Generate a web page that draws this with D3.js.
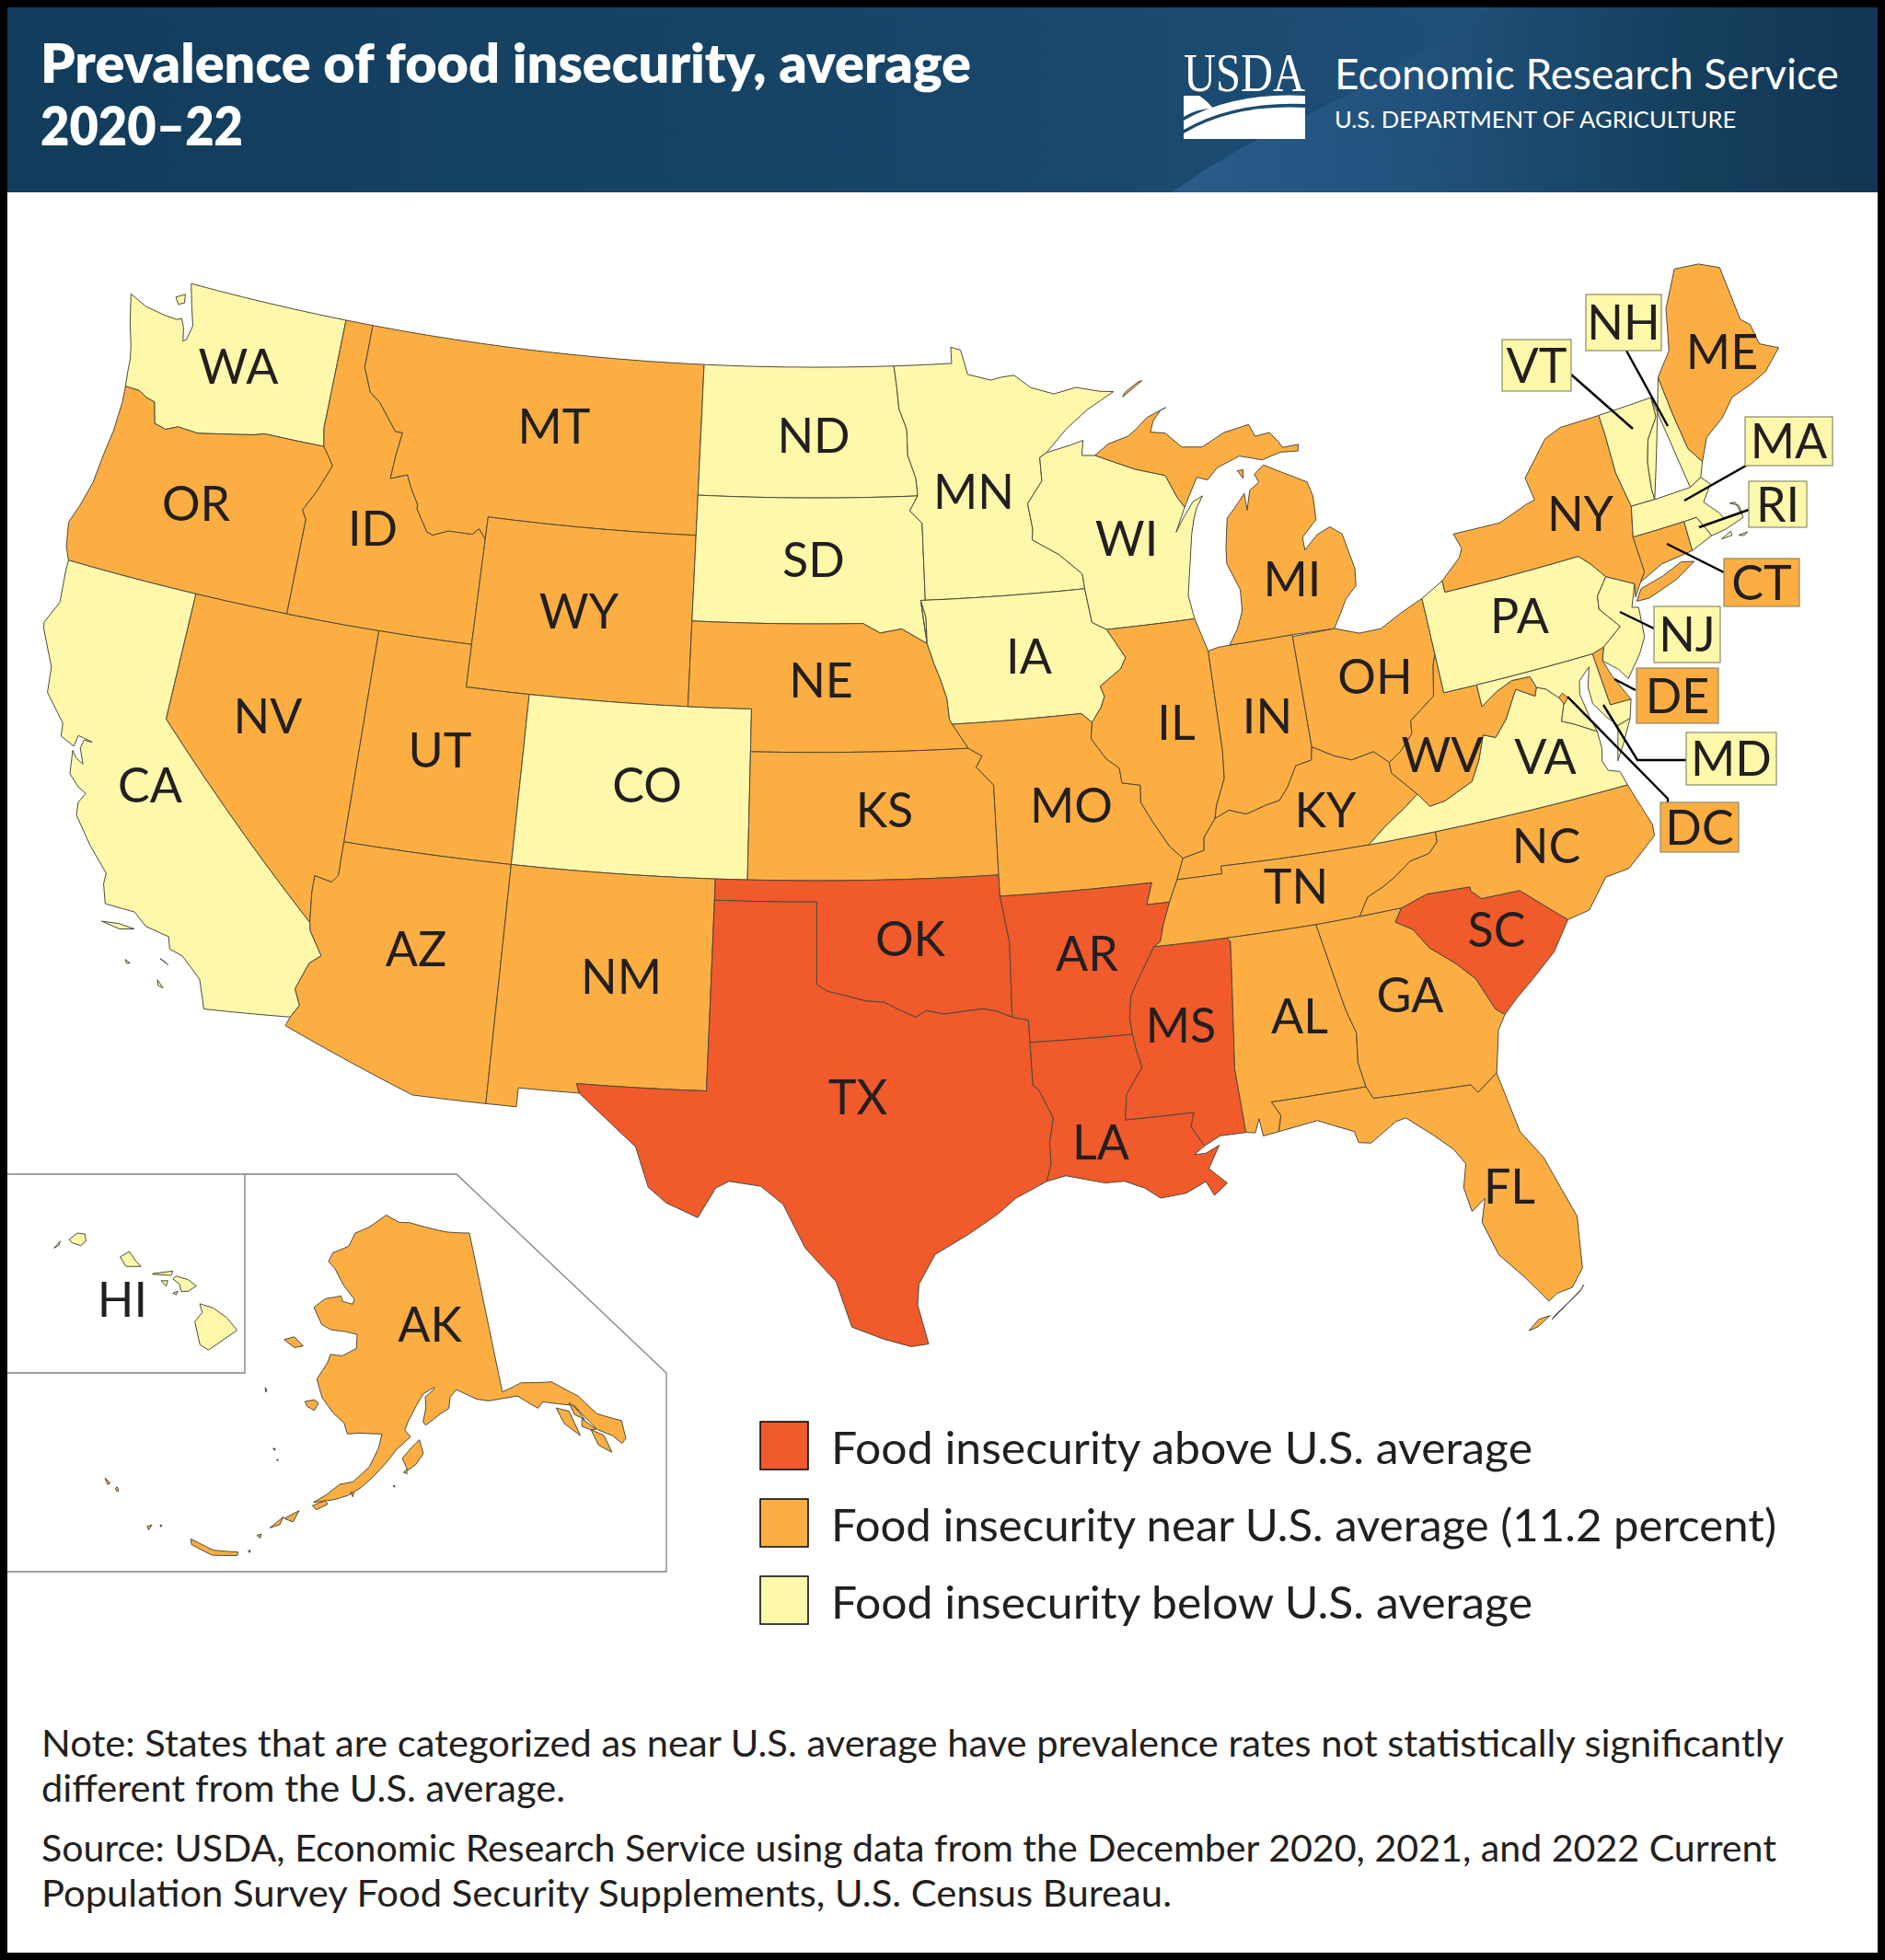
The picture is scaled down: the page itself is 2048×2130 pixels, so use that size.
<!DOCTYPE html>
<html>
<head>
<meta charset="utf-8">
<title>Prevalence of food insecurity</title>
<script src="https://cdn.jsdelivr.net/npm/d3@7"></script>
<style>
body { margin: 0; background: #fff; }
text { font-family: Lato, "Open Sans", sans-serif; }
</style>
</head>
<body>
<div id="chart"></div>
<script>
// Category membership
const aboveStates = ['TX', 'OK', 'AR', 'LA', 'MS', 'SC'];
const belowStates = ['WA', 'CA', 'ND', 'SD', 'MN', 'WI', 'IA', 'CO', 'PA', 'VA', 'VT', 'NH', 'MA', 'RI', 'NJ', 'MD', 'HI'];
const nearStates = ['OR', 'ID', 'MT', 'WY', 'NV', 'UT', 'AZ', 'NM', 'NE', 'KS', 'MO', 'IL', 'IN', 'OH', 'MI', 'KY', 'TN', 'AL', 'GA', 'FL', 'NC', 'WV', 'NY', 'ME', 'CT', 'DE', 'DC', 'AK'];
const legendLabels = ['Food insecurity above U.S. average', 'Food insecurity near U.S. average (11.2 percent)', 'Food insecurity below U.S. average'];
const titleLines = ['Prevalence of food insecurity, average', '2020\u201322'];
const footerLines = [
  'Note: States that are categorized as near U.S. average have prevalence rates not statistically significantly',
  'different from the U.S. average.',
  'Source: USDA, Economic Research Service using data from the December 2020, 2021, and 2022 Current',
  'Population Survey Food Security Supplements, U.S. Census Bureau.'
];

// Shared borders, lon/lat
const waOr = [[-124.0,46.27],[-123.5,46.26],[-123.2,46.15],[-122.9,46.1],[-122.8,45.85],[-122.7,45.62],[-122.3,45.55],[-121.9,45.68],[-121.2,45.65],[-120.6,45.74],[-119.9,45.84],[-119.3,45.93],[-119.0,46.0],[-116.92,46.0]];
const orId = [[-116.92,46.0],[-116.5,45.6],[-116.85,44.95],[-117.2,44.45],[-117.03,44.25],[-117.03,42]];
const idMt = [[-116.05,49],[-116.05,48.0],[-115.7,47.45],[-115.3,47.25],[-114.95,46.95],[-114.6,46.65],[-114.35,46.65],[-114.45,46.1],[-114.5,45.55],[-113.95,45.7],[-113.75,45.4],[-113.45,45.05],[-113.45,44.95],[-113.0,44.45],[-112.8,44.4],[-112.3,44.55],[-111.5,44.55],[-111.3,44.7],[-111.05,44.48]];
const coloradoAzCa = [[-114.63,35.0],[-114.57,34.8],[-114.15,34.27],[-114.45,34.05],[-114.72,33.4],[-114.52,33.03],[-114.72,32.72]];
const coloradoAzNv = [[-114.04,37],[-114.04,36.2],[-114.2,36.02],[-114.72,36.1],[-114.72,35.7],[-114.63,35.0]];
const redRiver = [[-100,34.56],[-99.7,34.4],[-99.2,34.3],[-98.6,34.16],[-98.1,34.13],[-97.7,33.95],[-97.2,33.75],[-96.9,33.9],[-96.4,33.8],[-95.8,33.85],[-95.3,33.88],[-94.9,33.8],[-94.49,33.64]];
const sabine = [[-94.04,33.02],[-94.04,32.0],[-93.9,31.9],[-93.55,31.2],[-93.7,30.6],[-93.7,30.1],[-93.85,29.7]];
const redRiverNd = [[-97.23,49],[-97.15,48.5],[-97.1,48.0],[-96.85,47.5],[-96.85,46.9],[-96.6,46.35],[-96.56,45.94]];
const mnSd = [[-96.56,45.94],[-96.85,45.6],[-96.45,45.3],[-96.45,43.5]];
const missouriSdNe = [[-98.5,43],[-97.95,42.77],[-97.25,42.85],[-96.7,42.6],[-96.45,42.49]];
const missouriIaNe = [[-96.6,43.5],[-96.45,43.1],[-96.45,42.49],[-96.25,42.0],[-96.1,41.7],[-95.9,41.2],[-95.85,40.7],[-95.77,40.58]];
const missouriNeMo = [[-95.77,40.58],[-95.31,40]];
const missouriKsMo = [[-95.31,40],[-94.9,39.8],[-95.1,39.55],[-94.6,39.11]];
const missMnWi = [[-92.3,46.65],[-92.3,46.1],[-92.85,45.6],[-92.75,45.0],[-92.8,44.75],[-91.95,44.35],[-91.25,43.85],[-91.22,43.5]];
const missIaWi = [[-91.22,43.5],[-91.1,42.7],[-90.65,42.5]];
const missIaIl = [[-90.65,42.5],[-90.15,41.8],[-90.35,41.55],[-91.05,41.2],[-90.95,40.95],[-91.1,40.7],[-91.42,40.38]];
const missMoIl = [[-91.42,40.38],[-91.5,40.0],[-91.1,39.5],[-90.73,39.25],[-90.7,38.9],[-90.15,38.8],[-90.2,38.4],[-89.9,37.9],[-89.5,37.3],[-89.15,36.98]];
const missMoKy = [[-89.15,36.98],[-89.4,36.5]];
const missMoTn = [[-89.4,36.5],[-89.7,36.0]];
const missArTn = [[-89.7,36.0],[-89.95,35.5],[-90.1,35.1],[-90.3,35.0]];
const missArMs = [[-90.3,35.0],[-90.6,34.6],[-90.9,34.2],[-91.1,33.9],[-91.2,33.4],[-91.17,33.0]];
const missLaMs = [[-91.17,33.0],[-91.1,32.6],[-91.0,32.2],[-91.5,31.6],[-91.6,31.0]];
const ohioOhWv = [[-80.52,40.64],[-80.65,40.4],[-80.85,39.7],[-81.7,39.25],[-81.75,38.95],[-82.2,38.6],[-82.6,38.4]];
const ohioOhKy = [[-82.6,38.4],[-83.0,38.72],[-83.7,38.63],[-84.2,38.8],[-84.82,39.1]];
const ohioInKy = [[-84.82,39.1],[-84.9,38.8],[-85.4,38.73],[-85.75,38.27],[-86.05,38.0],[-86.5,37.93],[-87.1,37.8],[-87.6,37.95],[-88.05,37.8]];
const ohioIlKy = [[-88.05,37.8],[-88.45,37.4],[-88.5,37.1],[-89.15,36.98]];
const wabash = [[-87.53,39.35],[-87.6,38.7],[-87.95,38.1],[-88.05,37.8]];
const kyVa = [[-83.68,36.6],[-83.1,36.95],[-82.4,37.3],[-81.97,37.54]];
const kyWv = [[-81.97,37.54],[-82.6,38.15],[-82.6,38.4]];
const vaWv = [[-81.97,37.54],[-81.68,37.2],[-81.2,37.25],[-80.3,37.55],[-79.95,38.0],[-79.65,38.55],[-79.3,38.42],[-78.87,38.77],[-78.35,39.4],[-77.83,39.13],[-77.72,39.32]];
const wvMd = [[-79.48,39.72],[-79.48,39.2],[-78.95,39.45],[-78.4,39.62],[-77.83,39.6],[-77.72,39.32]];
const potomacUpper = [[-77.72,39.32],[-77.45,39.22],[-77.12,38.93]];
const potomacLower = [[-77.04,38.79],[-77.25,38.4],[-76.95,38.28],[-76.3,37.95]];
const tnNc = [[-81.68,36.59],[-81.7,36.35],[-82.0,36.12],[-82.6,36.03],[-83.1,35.75],[-83.5,35.57],[-84.0,35.4],[-84.32,34.99]];
const gaSc = [[-83.1,35.0],[-83.35,34.7],[-82.9,34.45],[-82.55,33.95],[-81.9,33.45],[-81.45,33.0],[-81.1,32.2],[-80.88,32.03]];
const ncSc = [[-83.1,35.0],[-82.3,35.2],[-81.05,35.15],[-81.05,35.05],[-80.8,34.82],[-79.68,34.8],[-78.55,33.86]];
const alGa = [[-85.6,34.98],[-85.18,32.87],[-85.0,32.3],[-85.1,31.6],[-85.0,31.0]];
const gaFl = [[-85.0,31.0],[-84.86,30.7],[-82.2,30.57],[-82.05,30.36],[-81.45,30.72]];
const alFl = [[-87.6,31.0],[-87.4,30.65],[-87.52,30.28]];
const msAl = [[-88.2,34.99],[-88.1,34.9],[-88.47,31.9],[-88.4,30.37]];
const laMsPearl = [[-91.6,31.0],[-89.73,31.0],[-89.85,30.67],[-89.55,30.18]];
const vtNh = [[-71.5,45.01],[-71.55,44.55],[-72.05,44.1],[-72.3,43.6],[-72.45,43.0],[-72.46,42.73]];
const meNh = [[-71.05,45.4],[-71.0,44.5],[-70.9,43.6],[-70.6,43.2]];
const nyVt = [[-73.35,45.0],[-73.35,44.5],[-73.4,43.6],[-73.25,42.75]];
const nyPaDelaware = [[-75.35,42.0],[-75.05,41.75],[-74.7,41.36]];
const paNj = [[-74.7,41.36],[-75.13,40.98],[-75.2,40.68],[-74.72,40.15],[-75.4,39.8]];
const njNy = [[-74.7,41.36],[-73.9,41.0]];
const wiMi = [[-90.4,46.57],[-89.1,46.14],[-88.1,45.9],[-87.8,45.35],[-87.6,45.1]];
const orCoast = [[-124.0,46.27],[-123.95,45.9],[-123.97,45.2],[-124.07,44.6],[-124.15,43.9],[-124.35,43.3],[-124.55,42.85],[-124.4,42.3],[-124.21,42]];
const rev = a => a.slice().reverse();

// One ring list per state; islands are extra rings
const WA = [[...waOr, [-117.04,46.42], [-117.03,49], [-122.75,49], [-122.5,48.45], [-122.3,48.05], [-122.4,47.7], [-122.5,47.65], [-122.6,47.95], [-122.75,48.15], [-122.9,48.1], [-123.4,48.12], [-124.1,48.2], [-124.72,48.38], [-124.45,47.7], [-124.2,47.2], [-124.1,46.9], [-124.07,46.65]], [[-123.15,48.6],[-122.85,48.72],[-122.8,48.52],[-123.0,48.45]]];
const OR = [[...orCoast, [-120,42], ...rev(orId), ...rev(waOr)]];
const CA = [[[-124.21,42],[-120,42],[-120,39],...coloradoAzCa,[-117.12,32.53],[-117.25,32.85],[-117.4,33.2],[-118.0,33.65],[-118.4,33.75],[-118.5,34.03],[-119.2,34.15],[-119.6,34.42],[-120.47,34.45],[-120.65,34.9],[-120.65,35.15],[-121.3,35.7],[-121.9,36.3],[-121.95,36.6],[-121.8,36.85],[-122.05,36.95],[-122.4,37.2],[-122.5,37.75],[-122.35,37.6],[-122.1,37.5],[-122.3,37.85],[-122.25,38.05],[-122.0,38.05],[-122.45,38.12],[-122.5,37.85],[-122.95,38.0],[-123.0,38.3],[-123.7,38.9],[-123.8,39.5],[-124.35,40.3],[-124.4,40.45],[-124.1,41.0],[-124.2,41.75]],
  [[-120.45,34.03],[-119.95,34.07],[-119.5,34.03],[-119.9,33.95]], [[-118.6,33.48],[-118.35,33.38],[-118.5,33.45]], [[-118.55,32.98],[-118.35,32.82],[-118.5,32.85]], [[-119.55,33.28],[-119.4,33.22],[-119.5,33.2]]];
const NV = [[[-120,42],[-114.04,42],...coloradoAzNv,[-120,39]]];
const ID = [[[-117.03,49],...idMt,[-111.05,42],[-117.03,42],...rev(orId),[-117.04,46.42]]];
const MT = [[...idMt,[-111.05,45],[-104.05,45],[-104.05,49]]];
const WY = [[[-111.05,45],[-104.05,45],[-104.05,41],[-111.05,41]]];
const UT = [[[-114.04,42],[-111.05,42],[-111.05,41],[-109.05,41],[-109.05,37],[-114.04,37]]];
const AZ = [[[-114.04,37],[-109.05,37],[-109.05,31.33],[-111.07,31.33],[-114.81,32.5],...rev(coloradoAzCa),...rev(coloradoAzNv).slice(1)]];
const CO = [[[-109.05,41],[-102.05,41],[-102.05,37],[-109.05,37]]];
const NM = [[[-109.05,37],[-103,37],[-103.04,32],[-106.62,32],[-106.53,31.78],[-108.21,31.78],[-108.21,31.33],[-109.05,31.33]]];
const ND = [[[-104.05,49],...redRiverNd,[-104.05,45.94]]];
const SD = [[[-104.05,45.94],...mnSd,[-96.6,43.5],...rev(missouriIaNe.slice(0,3)),...rev(missouriSdNe),[-104.05,43]]];
const NE = [[[-104.05,43],...missouriSdNe,...missouriIaNe.slice(3),...missouriNeMo,[-102.05,40],[-102.05,41],[-104.05,41]]];
const KS = [[[-102.05,40],...missouriKsMo,[-94.62,37],[-102.05,37]]];
const OK = [[[-103,37],[-94.62,37],[-94.62,36.5],[-94.43,35.4],...rev(redRiver),[-100,36.5],[-103,36.5]]];
const TX = [[[-103,36.5],[-100,36.5],...redRiver,[-94.04,33.55],...sabine,[-94.7,29.35],[-95.2,29.0],[-96.0,28.55],[-96.9,28.1],[-97.35,27.4],[-97.4,26.9],[-97.15,25.95],[-97.6,25.9],[-98.3,26.1],[-99.1,26.4],[-99.5,27.5],[-100.3,28.3],[-100.9,29.35],[-101.5,29.77],[-102.35,29.87],[-102.7,29.7],[-103.15,28.98],[-104.0,29.3],[-104.5,29.65],[-104.9,30.6],[-106.0,31.4],[-106.53,31.78],[-106.62,32],[-103.04,32]]];
const MN = [[...redRiverNd.slice(0,1),[-95.15,49],[-95.15,49.38],[-94.8,49.3],[-94.6,48.72],[-93.8,48.55],[-93.4,48.6],[-92.95,48.62],[-92.4,48.3],[-91.6,48.1],[-90.8,48.2],[-90.0,48.05],[-89.5,48.0],[-90.5,47.65],[-91.3,47.25],[-92.05,46.75],...missMnWi,[-96.45,43.5],...rev(mnSd),...rev(redRiverNd)]];
const IA = [[[-96.6,43.5],[-91.22,43.5],...missIaWi.slice(1),...missIaIl.slice(1),[-91.73,40.61],...rev(missouriIaNe)]];
const MO = [[[-95.77,40.58],[-91.73,40.61],...missMoIl,...missMoKy.slice(1),...missMoTn.slice(1),[-90.37,36.0],[-90.15,36.5],[-94.62,36.5],[-94.62,37],...rev(missouriKsMo),...rev(missouriNeMo).slice(1)]];
const AR = [[[-94.62,36.5],[-90.15,36.5],[-90.37,36.0],...missArTn,...missArMs.slice(1),[-94.04,33.02],[-94.04,33.55],[-94.49,33.64],[-94.43,35.4]]];
const LA = [[[-94.04,33.02],...missLaMs,...laMsPearl.slice(1),[-89.85,30.0],[-89.54,30.0],[-89.16,30.15],[-89.51,29.63],[-89.07,29.23],[-89.45,28.98],[-89.63,29.33],[-90.19,29.11],[-90.87,29.06],[-91.27,29.34],[-91.79,29.55],[-92.3,29.55],[-93.33,29.8],...rev(sabine)]];
const MS = [[...missArMs,...missLaMs.slice(1),...laMsPearl.slice(1),[-89.1,30.37],...rev(msAl)]];
const WI = [[[-92.05,46.75],[-91.2,46.87],[-90.75,46.95],[-90.85,46.6],...wiMi,[-88.0,44.55],[-87.7,44.85],[-87.3,45.2],[-86.95,45.3],[-87.2,45.05],[-87.35,44.8],[-87.5,44.45],[-87.7,43.75],[-87.9,43.05],[-87.8,42.49],[-90.65,42.5],[-91.1,42.7],...rev(missMnWi),[-92.05,46.75]]];
const IL = [[[-90.65,42.5],[-87.8,42.49],[-87.52,41.7],...wabash,...ohioIlKy.slice(1),...rev(missMoIl).slice(1),...rev(missIaIl).slice(1)]];
const IN = [[[-87.52,41.7],[-87.2,41.75],[-86.82,41.76],[-84.8,41.76],...ohioInKy,...rev(wabash).slice(1)]];
const OH = [[[-84.8,41.72],[-83.45,41.72],[-82.7,41.5],[-82.0,41.5],[-81.3,41.75],[-80.52,41.98],...ohioOhWv,...ohioOhKy.slice(1)]];
const MI = [[[-90.4,46.57],[-89.9,46.8],[-89.2,46.92],[-88.9,47.05],[-88.45,47.3],[-87.75,47.47],[-87.95,47.42],[-88.25,47.2],[-88.4,46.95],[-87.9,46.88],[-87.4,46.5],[-86.7,46.43],[-85.9,46.68],[-85.0,46.77],[-84.85,46.47],[-84.35,46.5],[-84.1,46.25],[-84.0,46.1],[-83.45,46.1],[-83.5,45.95],[-84.1,46.0],[-84.75,45.9],[-85.5,46.08],[-86.3,45.9],[-86.7,45.65],[-87.05,45.75],...rev(wiMi)],
  [[-86.82,41.76],[-86.5,42.1],[-86.25,42.5],[-86.2,43.0],[-86.5,43.65],[-86.45,44.0],[-86.25,44.7],[-85.95,44.9],[-85.55,45.2],[-85.55,44.8],[-85.35,45.25],[-85.0,45.4],[-85.1,45.6],[-84.75,45.78],[-84.1,45.5],[-83.4,45.2],[-83.3,44.85],[-83.35,44.3],[-83.9,43.95],[-83.9,43.65],[-83.4,43.95],[-82.95,44.07],[-82.6,43.85],[-82.42,43.0],[-82.5,42.6],[-82.9,42.35],[-83.15,42.05],[-83.45,41.72],[-84.8,41.76]],
  [[-89.2,47.85],[-88.45,48.17],[-88.6,48.15],[-89.1,47.95]], [[-85.65,45.75],[-85.45,45.75],[-85.5,45.55]]];
const KY = [[...missMoKy.slice(1),...missMoKy.slice(0,1),...rev(ohioIlKy).slice(1),...rev(ohioInKy).slice(1),...rev(ohioOhKy).slice(1),...rev(kyWv).slice(1),...rev(kyVa).slice(1),[-86.5,36.65],[-88.07,36.68],[-88.07,36.5]]];
const TN = [[...rev(missArTn),...rev(missMoTn).slice(1),[-88.07,36.5],[-88.07,36.68],[-86.5,36.65],[-83.68,36.6],...tnNc,[-85.6,34.98],[-88.2,34.99]]];
const AL = [[...msAl.slice(0,1),...alGa,[-87.6,31.0],...alFl.slice(1),[-87.95,30.23],[-88.0,30.65],[-88.15,30.33],...rev(msAl)]];
const GA = [[...alGa,...gaFl.slice(1),[-81.3,31.2],[-81.15,31.7],...rev(gaSc),[-85.6,34.98]]];
const FL = [[[-87.6,31.0],...gaFl,[-81.18,29.23],[-80.72,28.5],[-80.22,26.95],[-80.39,25.7],[-80.75,25.3],[-81.16,25.24],[-81.4,25.1],[-81.9,25.83],[-82.4,26.45],[-82.65,27.3],[-82.45,27.85],[-82.85,27.6],[-82.94,28.2],[-82.76,28.75],[-83.0,29.15],[-83.45,29.57],[-84.09,30.1],[-84.37,30.06],[-85.13,29.66],[-85.45,29.72],[-85.52,30.0],[-86.45,30.4],...rev(alFl)],
  [[-80.45,25.3],[-80.55,25.2],[-81.42,24.65],[-81.35,24.72],[-80.6,25.15]], [[-81.45,24.75],[-81.75,24.72],[-82.05,24.5],[-81.8,24.55]]];
const SC = [[...ncSc,[-79.15,33.2],[-79.9,32.7],[-80.45,32.35],...rev(gaSc)]];
const NC = [[...rev(tnNc),[-75.87,36.55],[-75.75,36.2],[-75.5,35.5],[-75.53,35.23],[-76.5,34.65],[-77.2,34.6],[-77.9,33.95],...rev(ncSc)]];
const VA = [[...kyVa,...vaWv.slice(1),...potomacUpper.slice(1),[-77.04,38.79],...potomacLower.slice(1),[-76.3,37.55],[-76.4,37.25],[-76.3,37.0],[-75.98,36.9],[-75.87,36.55],[-81.68,36.59]],
  [[-75.24,38.03],[-75.65,37.95],[-75.95,37.15],[-75.65,37.5]]];
const WV = [[[-80.52,40.64],[-80.52,39.72],...wvMd,...rev(vaWv).slice(1),...kyWv.slice(1),...rev(ohioOhWv).slice(1)]];
const PA = [[[-80.52,41.98],[-79.76,42.27],[-79.76,42.0],...nyPaDelaware,...paNj.slice(1),[-75.79,39.72],[-80.52,39.72]]];
const NY = [[[-79.76,42.27],[-79.05,42.7],[-78.9,42.9],[-79.05,43.27],[-77.5,43.25],[-76.5,43.5],[-76.2,43.55],[-76.3,44.1],[-75.3,44.85],[-74.7,45.0],...nyVt,[-73.5,42.05],[-73.49,41.2],[-73.7,41.0],[-73.9,40.8],[-74.0,40.7],...rev(njNy),...rev(nyPaDelaware).slice(1),[-79.76,42.0]],
  [[-74.0,40.6],[-73.75,40.85],[-73.0,40.97],[-72.3,41.15],[-71.9,41.07],[-72.6,40.8],[-73.6,40.58]]];
const VT = [[...nyVt.slice(0,1),...vtNh,...rev(nyVt)]];
const NH = [[...rev(vtNh),[-71.25,42.73],[-70.82,42.87],...rev(meNh)]];
const ME = [[...meNh,[-70.2,43.7],[-69.5,44.0],[-68.95,44.37],[-68.2,44.5],[-67.6,44.65],[-66.9,45.05],[-67.45,45.3],[-67.5,45.8],[-67.75,46.0],[-67.75,47.3],[-68.4,47.56],[-69.25,47.65],[-70.0,46.85],[-70.4,45.9]]];
const MA = [[[-73.5,42.05],[-73.25,42.75],[-72.46,42.73],[-71.25,42.73],[-70.82,42.87],[-70.6,42.65],[-71.0,42.3],[-70.65,41.95],[-70.55,41.78],[-70.0,41.78],[-70.05,42.05],[-70.22,42.07],[-69.97,41.95],[-69.98,41.65],[-70.65,41.53],[-71.12,41.5],[-71.2,41.68],[-71.38,42.02],[-71.8,42.02]],
  [[-70.85,41.35],[-70.5,41.45],[-70.5,41.35]], [[-70.3,41.3],[-70.0,41.3],[-70.15,41.25]]];
const RI = [[[-71.8,42.02],[-71.38,42.02],[-71.2,41.68],[-71.12,41.5],[-71.85,41.32]]];
const CT = [[[-73.5,42.05],[-71.8,42.02],[-71.85,41.32],[-72.9,41.25],[-73.7,41.0],[-73.49,41.2]]];
const NJ = [[...njNy,[-74.2,40.5],[-74.0,40.45],[-74.1,39.75],[-74.4,39.4],[-74.95,38.93],[-75.15,39.2],[-75.55,39.5],...rev(paNj)]];
const DE = [[[-75.79,39.72],[-75.4,39.8],[-75.55,39.5],[-75.4,39.1],[-75.05,38.45],[-75.7,38.46]]];
const MD = [[[-79.48,39.72],[-75.79,39.72],[-75.7,38.46],[-75.05,38.45],[-75.24,38.03],[-75.65,37.95],[-75.9,38.2],[-76.2,38.6],[-76.2,39.0],[-76.0,39.45],[-76.4,39.2],[-76.5,38.9],[-76.4,38.3],...rev(potomacLower),[-77.12,38.93],...rev(potomacUpper).slice(1),...rev(wvMd).slice(1)]];
const DC = [[[-77.14,38.95],[-77.0,39.03],[-76.88,38.89],[-77.03,38.77]]];
const AK = [[[-141,69.65],[-141,60.3],[-138.3,60.5],[-134.4,59.95],[-131.75,58.6],[-130.3,57.2],[-127.9,56.2],[-128.2,55.15],[-128.8,55],[-129.5,55.66],[-130.9,56.37],[-132.6,58.2],[-136.2,59.06],[-137,58.8],[-139.2,59.85],[-141.4,59.95],[-143,60],[-144.5,60.25],[-146,60.7],[-147,61],[-148,60.6],[-148.3,60],[-149.5,59.75],[-151.5,59.2],[-151.8,59.4],[-151.3,60.2],[-151.3,60.8],[-150,61.2],[-150,61.3],[-151.5,61],[-152.5,60.4],[-153.7,59.5],[-154.2,59],[-153.5,58.6],[-155.3,57.9],[-156.5,57.2],[-158,56.4],[-159.5,55.7],[-161,55.2],[-162.5,54.9],[-164.8,54.6],[-163.5,55.1],[-162,55.8],[-160.5,56],[-158.6,56.9],[-157.5,58],[-157.1,58.8],[-158.5,58.8],[-160,58.8],[-161.5,58.7],[-162,59.3],[-163.5,59.8],[-165.2,60.6],[-166.2,61.6],[-165,62.6],[-164.7,63.1],[-163,63.1],[-161,63.6],[-161,64.4],[-162.8,64.5],[-165,64.5],[-166.5,64.7],[-168.1,65.6],[-166.5,66.2],[-164,66.5],[-163.7,66.2],[-162,66.1],[-161.8,66.4],[-163.7,67.1],[-165.5,68],[-166.8,68.35],[-166.2,68.9],[-163.5,69.4],[-162.5,70.2],[-160,70.6],[-156.6,71.35],[-154,70.9],[-152,70.85],[-149,70.5],[-145,70]],
  [[-134.8,58.45],[-133.4,58.0],[-133.0,56.45],[-134.4,57.45]], [[-133.1,58.45],[-132.5,58.0],[-131.9,57.2],[-132.9,57.7]], [[-132.2,57.3],[-131.0,56.4],[-131.6,56.5],[-132.5,56.9]], [[-131.6,56.5],[-130.4,55.9],[-130.2,54.8],[-131.35,55.5]],
  [[-171.7,63.4],[-170.3,63.7],[-168.8,63.3],[-170,63.1]], [[-167.4,60.2],[-166.2,60.4],[-165.6,60.25],[-166,59.8],[-167,59.95]], [[-172.9,60.45],[-172.6,60.35],[-172.7,60.2]], [[-170.4,57.2],[-170.1,57.2],[-170.2,57.1]], [[-169.75,56.62],[-169.5,56.62],[-169.6,56.55]],
  [[-154.6,57.4],[-153.4,58],[-152.4,58.4],[-152,57.6],[-153,57],[-154,56.7]], [[-154.5,56.6],[-154.1,56.75],[-154.1,56.5]], [[-160.7,55.4],[-160.3,55.4],[-160.4,55.15]], [[-155.75,55.85],[-155.55,55.85],[-155.6,55.75]],
  [[-164.9,54.4],[-163.5,54.8],[-163.2,54.6],[-164.4,54.2]], [[-167.8,53.4],[-166.3,54],[-166.8,53.3]], [[-169.2,52.7],[-167.9,53.5],[-168.2,53]], [[-170.4,52.1],[-170,52.25],[-170,52.0]],
  [[-177,50.8],[-174.5,50.6],[-172,50.9],[-172,50.7],[-174.5,50.3],[-176.8,50.5]], [[-171,51.1],[-170.8,51.2],[-170.8,51.05]],
  [[-181.6,50.5],[-181.2,50.7],[-181.35,50.35]], [[-180.4,50.9],[-180.2,50.9],[-180.3,50.8]], [[-185.9,51.8],[-185.6,51.65],[-185.7,51.55],[-186,51.65]], [[-187.4,51.9],[-186.7,51.8],[-186.9,51.65]]];
const HI = [[[-159.8,22.05],[-159.55,22.23],[-159.32,22.2],[-159.3,22.0],[-159.45,21.88],[-159.7,21.95]], [[-160.25,21.8],[-160.07,22.0],[-160.1,21.88]],
  [[-158.27,21.57],[-158.0,21.72],[-157.8,21.45],[-157.65,21.3],[-158.1,21.3]], [[-157.3,21.1],[-156.7,21.17],[-156.75,21.05],[-157.3,21.08]], [[-157.05,20.9],[-156.85,20.9],[-156.9,20.75]],
  [[-156.7,20.95],[-156.6,21.03],[-156.25,20.93],[-156.0,20.75],[-156.25,20.6],[-156.45,20.6],[-156.5,20.8]], [[-156.7,20.55],[-156.55,20.6],[-156.6,20.5]],
  [[-155.9,20.25],[-155.5,20.13],[-155.1,19.85],[-154.8,19.5],[-155.65,18.95],[-155.9,19.1],[-156.05,19.75],[-155.83,20.0]]];

const stateRings = {WA, OR, CA, NV, ID, MT, WY, UT, AZ, CO, NM, ND, SD, NE, KS, OK, TX, MN, IA, MO, AR, LA, MS, WI, IL, IN, OH, MI, KY, TN, AL, GA, FL, SC, NC, VA, WV, PA, NY, VT, NH, ME, MA, RI, CT, NJ, DE, MD, DC};

// Layout
const width = 2048, height = 2130;
const catColor = {above: '#f15a2b', near: '#fdae42', below: '#fef8ab'};
const stateFill = code => aboveStates.includes(code) ? catColor.above : belowStates.includes(code) ? catColor.below : catColor.near;

const plainLabels = [
  ['WA',259,398],['OR',213,547],['CA',163,853],['NV',291,778],['ID',405,574],['MT',602,463],['WY',629,664],['UT',478,815],['AZ',452,1031],['CO',703,853],['NM',675,1061],
  ['ND',884,473],['SD',884,608],['NE',892,739],['KS',961,880],['OK',989,1020],['TX',932,1192],['MN',1058,534],['IA',1118,713],['MO',1164,875],['AR',1181,1036],['LA',1196,1241],
  ['WI',1224,585],['IL',1278,785],['MI',1404,629],['IN',1377,778],['OH',1494,735],['KY',1440,880],['TN',1408,963],['MS',1283,1114],['AL',1412,1104],['GA',1532,1081],['FL',1640,1289],
  ['SC',1626,1010],['NC',1680,919],['VA',1679,822],['WV',1567,820],['PA',1651,669],['NY',1717,558],['ME',1871,382],['HI',133,1412],['AK',467,1439]
];
// code, box x0,y0,x1,y1, leader points
const calloutLabels = [
  ['NH',1723,320,1805,381,[[1767,381],[1812,463]]],
  ['VT',1632,369,1707,425,[[1707,407],[1774,466]]],
  ['MA',1896,453,1991,506,[[1897,506],[1830,544]]],
  ['RI',1900,523,1963,573,[[1900,554],[1846,573]]],
  ['CT',1873,607,1955,659,[[1873,622],[1811,591]]],
  ['NJ',1797,659,1869,720,[[1797,683],[1760,665]]],
  ['DE',1778,726,1867,786,[[1777,750],[1754,738]]],
  ['MD',1832,796,1930,853,[[1832,826],[1779,826],[1742,766]]],
  ['DC',1804,872,1889,926,[[1812,872],[1812,868],[1703,757]]]
];
const titleWidths = [1011, 220];
const legendWidths = [762, 1027, 762];
const footerWidths = [1893, 569, 1885, 1228];

// Projections pinned to map points
function pin(proj, a, A, b, B) {
  proj.scale(1).translate([0, 0]);
  const pa = proj(a), pb = proj(b);
  const s = Math.hypot(A[0] - B[0], A[1] - B[1]) / Math.hypot(pa[0] - pb[0], pa[1] - pb[1]);
  return proj.scale(s).translate([A[0] - s * pa[0], A[1] - s * pa[1]]);
}
const lower48 = pin(d3.geoConicEqualArea().parallels([35, 50]).rotate([100, 0]), [-117.03, 49], [376, 348], [-81.45, 30.72], [1626, 1166]);
const hawaii = pin(d3.geoConicEqualArea().parallels([8, 18]).rotate([157, 0]), [-159.5, 22.05], [86, 1347], [-155.68, 18.91], [226, 1468]);
// The Alaska inset is squeezed sideways, so x and y get their own scale
const akBase = d3.geoConicEqualArea().parallels([55, 65]).rotate([156.5, 0]).scale(1).translate([0, 0]);
const akX = d3.scaleLinear().domain([akBase([-141, 69.65])[0], akBase([-141, 69.65])[0] + 1]).range([510, 510 + 949]);
const akY = d3.scaleLinear().domain([akBase([-141, 69.65])[1], akBase([-141, 69.65])[1] + 1]).range([1340, 1340 + 1090]);
const alaska = p => { const q = akBase(p); return [akX(q[0]), akY(q[1])]; };

// Straight lon/lat runs follow the parallels, so add points along them
function densify(ring) {
  const out = [];
  ring.forEach((p, i) => {
    const q = ring[(i + 1) % ring.length];
    const n = Math.max(1, Math.ceil(Math.hypot(q[0] - p[0], q[1] - p[1])));
    for (let k = 0; k < n; k++) out.push([p[0] + (q[0] - p[0]) * k / n, p[1] + (q[1] - p[1]) * k / n]);
  });
  return out;
}
const ringPath = proj => ring => d3.line()(densify(ring).map(proj)) + 'Z';

const svg = d3.select('#chart').append('svg').attr('width', width).attr('height', height).style('display', 'block');
const defs = svg.append('defs');
const gradient = (id, stops) => defs.append('linearGradient').attr('id', id).selectAll('stop').data(stops).enter().append('stop').attr('offset', d => d[0]).attr('stop-color', d => d[1]);
gradient('bandFill', [[0, '#123c5c'], [0.5, '#184668'], [0.8, '#1f5079'], [1, '#1f5079']]);
gradient('swooshFill', [[0, '#2a5c8a'], [0.35, '#21527c'], [0.7, '#16405f'], [1, '#123555']]);

svg.append('rect').attr('width', width).attr('height', height).attr('fill', '#000');
svg.append('rect').attr('x', 8).attr('y', 8).attr('width', 2032).attr('height', 2114).attr('fill', '#fff');
svg.append('rect').attr('x', 8).attr('y', 8).attr('width', 2032).attr('height', 201).attr('fill', 'url(#bandFill)');
const swoosh = d3.line().curve(d3.curveBasis)([[1619, 8], [1600, 25], [1566, 43], [1475, 100], [1345, 160], [1273, 209], [1273, 209]]);
svg.append('path').attr('d', swoosh + 'L2040,209L2040,8Z').attr('fill', 'url(#swooshFill)');

titleLines.forEach((t, i) => {
  svg.append('text').attr('x', 44).attr('y', 90 + i * 68).attr('fill', '#fff').attr('font-size', 59.4).attr('font-weight', 800)
    .attr('textLength', titleWidths[i]).attr('lengthAdjust', 'spacingAndGlyphs').text(t);
});
svg.append('text').attr('x', 1286).attr('y', 99).attr('fill', '#fff').attr('font-size', 59).style('font-family', '"Liberation Serif"').attr('textLength', 132).attr('lengthAdjust', 'spacingAndGlyphs').text('USDA');
const logoMark = svg.append('g').attr('fill', '#fff');
logoMark.append('path').attr('d', 'M1286,104L1303,104Q1312,110 1318,118Q1300,118 1286,127Z');
logoMark.append('path').attr('d', 'M1286,131Q1340,100 1418,104L1418,113Q1340,110 1286,141Z');
logoMark.append('path').attr('d', 'M1286,151L1286,145Q1340,113 1418,117L1418,151Z');
svg.append('text').attr('x', 1450).attr('y', 97).attr('fill', '#fff').attr('font-size', 46).text('Economic Research Service');
svg.append('text').attr('x', 1450).attr('y', 139).attr('fill', '#fff').attr('font-size', 25.6).text('U.S. DEPARTMENT OF AGRICULTURE');

// Inset frames
const frame = svg.append('g').attr('fill', 'none').attr('stroke', '#808080').attr('stroke-width', 1.3);
frame.append('path').attr('d', 'M8,1276L496,1276L724,1492L724,1708L8,1708');
frame.append('path').attr('d', 'M266,1276L266,1492L8,1492');

const outline = '#4d4a3c';
const drawState = (code, rings, proj) => svg.append('g').attr('class', 'state').attr('id', 'state-' + code)
  .selectAll('path').data(rings).enter().append('path')
  .attr('d', ringPath(proj))
  .attr('fill', stateFill(code)).attr('stroke', outline).attr('stroke-width', 1).attr('stroke-linejoin', 'round');
Object.keys(stateRings).forEach(code => drawState(code, stateRings[code], lower48));
drawState('AK', AK, alaska);
drawState('HI', HI, hawaii);

// Leaders and labels
const labelSize = 52;
calloutLabels.forEach(([code, x0, y0, x1, y1, leader]) => {
  svg.append('path').attr('d', d3.line()(leader)).attr('fill', 'none').attr('stroke', '#000').attr('stroke-width', 2.4);
  svg.append('rect').attr('x', x0).attr('y', y0).attr('width', x1 - x0).attr('height', y1 - y0)
    .attr('fill', stateFill(code)).attr('stroke', '#8a8a6a').attr('stroke-width', 1.2);
  svg.append('text').attr('x', (x0 + x1) / 2).attr('y', (y0 + y1) / 2).attr('dy', '0.36em').attr('text-anchor', 'middle')
    .attr('font-size', labelSize).attr('fill', '#231f20').text(code);
});
svg.append('g').selectAll('text').data(plainLabels).enter().append('text')
  .attr('x', d => d[1]).attr('y', d => d[2]).attr('dy', '0.36em').attr('text-anchor', 'middle')
  .attr('font-size', labelSize).attr('fill', '#231f20').text(d => d[0]);

// Legend
const legendColors = [catColor.above, catColor.near, catColor.below];
const legendY = d3.scalePoint().domain(legendLabels).range([1545, 1713]);
const legend = svg.append('g').selectAll('g').data(legendLabels).enter().append('g').attr('transform', d => `translate(826,${legendY(d)})`);
legend.append('rect').attr('width', 52).attr('height', 52).attr('fill', (d, i) => legendColors[i]).attr('stroke', '#000').attr('stroke-width', 1.5);
legend.append('text').attr('x', 77).attr('y', 46).attr('font-size', 49.2).attr('fill', '#231f20')
  .attr('textLength', (d, i) => legendWidths[i]).attr('lengthAdjust', 'spacingAndGlyphs').text(d => d);

// Footer
const footerY = [1909, 1958, 2023, 2072];
footerLines.forEach((t, i) => {
  svg.append('text').attr('x', 45).attr('y', footerY[i]).attr('font-size', 41.2).attr('fill', '#231f20')
    .attr('textLength', footerWidths[i]).attr('lengthAdjust', 'spacingAndGlyphs').text(t);
});
</script>
</body>
</html>
